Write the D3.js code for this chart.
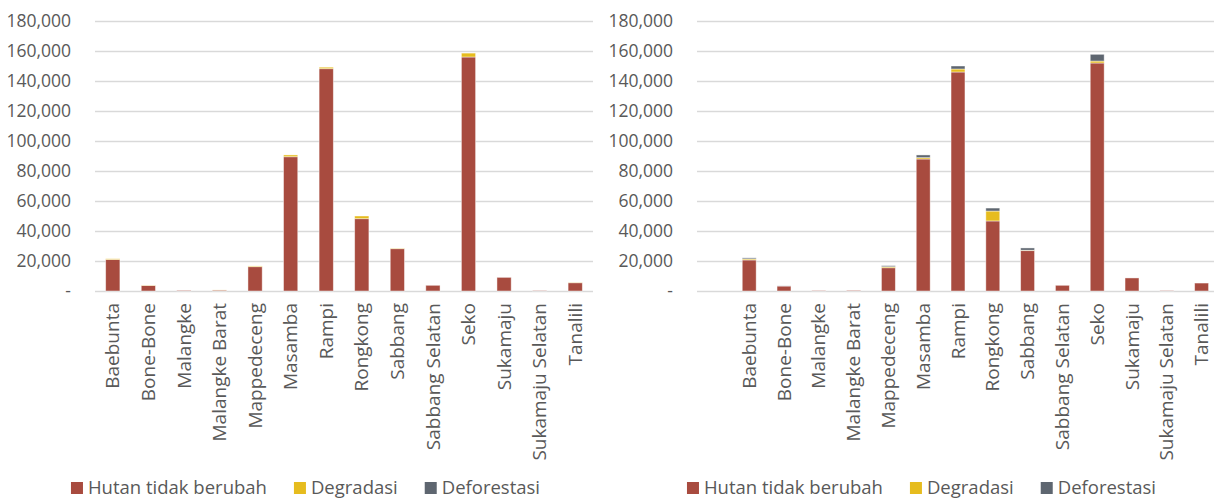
<!DOCTYPE html>
<html>
<head>
<meta charset="utf-8">
<script src="https://cdn.jsdelivr.net/npm/d3@7"></script>
<style>
  html, body { margin: 0; padding: 0; background: #fff; }
  svg { display: block; }
  text { font-family: "Open Sans", "Noto Sans", sans-serif; fill: #595959; }
</style>
</head>
<body>
<svg id="chart" width="1214" height="501"></svg>
<script>
// Kecamatan (sub-districts)
const categories = ["Baebunta", "Bone-Bone", "Malangke", "Malangke Barat", "Mappedeceng",
  "Masamba", "Rampi", "Rongkong", "Sabbang", "Sabbang Selatan", "Seko", "Sukamaju",
  "Sukamaju Selatan", "Tanalili"];

const seriesNames = ["Hutan tidak berubah", "Degradasi", "Deforestasi"];
const seriesColors = ["#A84B3F", "#E6BC1E", "#5E6670"];

// First period (ha)
const hutanA = [21000, 3600, 400, 600, 16200, 89500, 148200, 48200, 28200, 3800, 156000, 9100, 200, 5500];
const degradasiA = [500, 200, 0, 100, 500, 1200, 1000, 1800, 300, 0, 2600, 0, 0, 200];
const deforestasiA = [0, 0, 0, 0, 0, 0, 0, 0, 0, 0, 0, 0, 0, 0];

// Second period (ha)
const hutanB = [20700, 3300, 300, 400, 15500, 88000, 146000, 46700, 26900, 3800, 152000, 8700, 200, 5300];
const degradasiB = [700, 0, 0, 0, 700, 900, 2000, 6600, 300, 0, 1300, 0, 0, 0];
const deforestasiB = [700, 100, 0, 0, 700, 1800, 2000, 2000, 1500, 0, 4500, 0, 0, 0];

const yTicks = [0, 20000, 40000, 60000, 80000, 100000, 120000, 140000, 160000, 180000];

const svg = d3.select("#chart");
const fmt = d3.format(",");

function drawPanel(cfg) {
  const g = svg.append("g");
  const y = d3.scaleLinear().domain([0, 180000]).range([cfg.bottom, cfg.top]);
  const x = d3.scaleBand().domain(cfg.domain).range([cfg.left, cfg.right])
    .paddingInner(0.6).paddingOuter(0.3);

  // gridlines
  g.append("g").selectAll("line").data(yTicks).join("line")
    .attr("x1", cfg.left).attr("x2", cfg.right)
    .attr("y1", d => Math.round(y(d)) + 0.5).attr("y2", d => Math.round(y(d)) + 0.5)
    .attr("stroke", "#D9D9D9").attr("stroke-width", 1.3);

  // y tick labels
  g.append("g").selectAll("text").data(yTicks).join("text")
    .attr("x", cfg.left - 24).attr("y", d => y(d))
    .attr("dy", "0.35em").attr("text-anchor", "end")
    .style("font-size", "17.5px")
    .text(d => d === 0 ? "-" : fmt(d));

  // stacked bars
  const rows = categories.map((c, i) => ({
    cat: c, h: cfg.hutan[i], dg: cfg.degradasi[i], df: cfg.deforestasi[i]
  }));
  const stack = d3.stack().keys(["h", "dg", "df"])(rows);
  g.append("g").selectAll("g").data(stack).join("g")
    .attr("fill", (d, i) => seriesColors[i])
    .selectAll("rect").data(d => d).join("rect")
    .attr("x", d => x(d.data.cat))
    .attr("width", x.bandwidth())
    .attr("y", d => y(d[1]))
    .attr("height", d => Math.max(0, y(d[0]) - y(d[1])))
    .attr("stroke", "rgba(255,255,255,0.55)")
    .attr("stroke-width", 0.8);

  // category labels
  g.append("g").selectAll("text").data(categories).join("text")
    .attr("transform", d => `translate(${x(d) + x.bandwidth() / 2},${cfg.bottom + 12}) rotate(-90)`)
    .attr("dy", "0.35em").attr("text-anchor", "end")
    .style("font-size", "19px")
    .text(d => d);

  // legend
  const leg = g.append("g");
  const items = leg.selectAll("g").data(seriesNames).join("g");
  items.append("rect").attr("width", 12).attr("height", 12).attr("y", -6)
    .attr("fill", (d, i) => seriesColors[i]);
  items.append("text").attr("x", 17).attr("dy", "0.35em")
    .style("font-size", "18.5px").text(d => d);
  let offset = 0;
  const widths = [];
  items.each(function () { widths.push(this.getBBox().width); });
  items.attr("transform", (d, i) => {
    const t = `translate(${offset},0)`;
    offset += widths[i] + 27;
    return t;
  });
  const total = offset - 27;
  leg.attr("transform", `translate(${cfg.legendCenter - total / 2},${cfg.legendY})`);
}

drawPanel({
  domain: categories, left: 95, right: 593, top: 21, bottom: 291,
  hutan: hutanA, degradasi: degradasiA, deforestasi: deforestasiA,
  legendCenter: 305.5, legendY: 488
});

// second panel has one empty leading slot on its category axis
drawPanel({
  domain: [""].concat(categories), left: 697, right: 697 + 15 * 34.8, top: 21, bottom: 291,
  hutan: hutanB, degradasi: degradasiB, deforestasi: deforestasiB,
  legendCenter: 921.5, legendY: 488
});
</script>
</body>
</html>
